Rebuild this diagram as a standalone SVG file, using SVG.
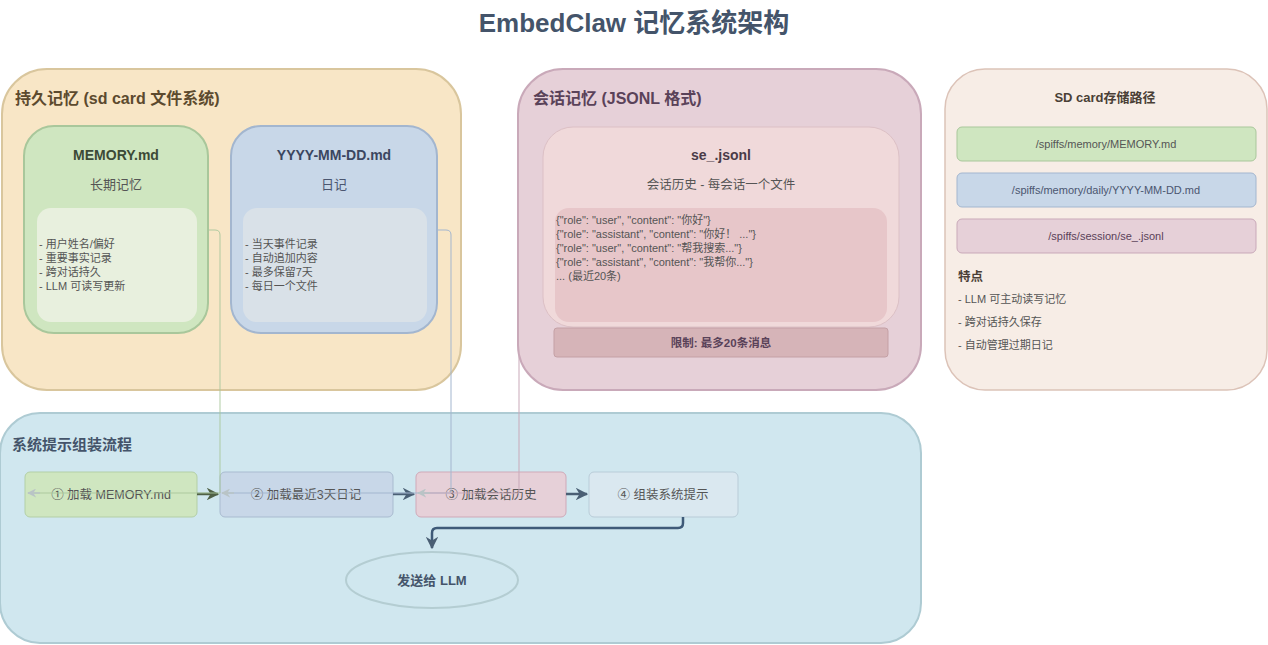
<svg xmlns="http://www.w3.org/2000/svg" width="1268" height="645" viewBox="0 0 1268 645">
<style>
text{font-family:"Liberation Sans","Noto Sans CJK SC",sans-serif}
.b{font-weight:bold}
.sm{font-size:11px}
.fl{font-size:12.5px}
</style>
<defs>
<marker id="ad" viewBox="0 0 10 10" refX="9" refY="5" markerWidth="5" markerHeight="5" orient="auto"><path d="M0,0 L10,5 L0,10 L3,5 Z" fill="#4a5f74"/></marker>
<marker id="ag" viewBox="0 0 10 10" refX="9" refY="5" markerWidth="5" markerHeight="5" orient="auto"><path d="M0,0 L10,5 L0,10 L3,5 Z" fill="#4f6046"/></marker>
<marker id="al" viewBox="0 0 10 10" refX="9" refY="5" markerWidth="6" markerHeight="6" orient="auto"><path d="M0,0 L10,5 L0,10 L3,5 Z" fill="#b9c4c6"/></marker>
</defs>
<rect width="1268" height="645" fill="#fff"/>
<text x="634" y="32" text-anchor="middle" class="b" font-size="26" fill="#44546a">EmbedClaw 记忆系统架构</text>

<g id="persist">
<rect x="2" y="69" width="459" height="321" rx="45" fill="#f8e6c6" stroke="#d9c69d" stroke-width="2"/>
<text x="15" y="104" class="b" font-size="16" fill="#5c4a2e">持久记忆 (sd card 文件系统)</text>
</g>
<g id="memory-md">
<rect x="24" y="126" width="184" height="207" rx="30" fill="#cfe6c0" stroke="#a9c79b" stroke-width="2"/>
<text x="116" y="160" text-anchor="middle" class="b" font-size="14" fill="#3c4a36">MEMORY.md</text>
<text x="116" y="189" text-anchor="middle" font-size="13" fill="#555">长期记忆</text>
<rect x="37" y="208" width="160" height="114" rx="14" fill="#e8f0de"/>
<text class="sm" fill="#555"><tspan x="39" y="248">- 用户姓名/偏好</tspan><tspan x="39" y="262">- 重要事实记录</tspan><tspan x="39" y="276">- 跨对话持久</tspan><tspan x="39" y="290">- LLM 可读写更新</tspan></text>
</g>
<g id="daily-md">
<rect x="231" y="126" width="206" height="207" rx="30" fill="#c8d7e8" stroke="#a3b6cf" stroke-width="2"/>
<text x="334" y="160" text-anchor="middle" class="b" font-size="14" fill="#3b4660">YYYY-MM-DD.md</text>
<text x="334" y="189" text-anchor="middle" font-size="13" fill="#4b5670">日记</text>
<rect x="243" y="208" width="184" height="114" rx="14" fill="#d9e1e8"/>
<text class="sm" fill="#555"><tspan x="245" y="248">- 当天事件记录</tspan><tspan x="245" y="262">- 自动追加内容</tspan><tspan x="245" y="276">- 最多保留7天</tspan><tspan x="245" y="290">- 每日一个文件</tspan></text>
</g>

<g id="session">
<rect x="518" y="69" width="403" height="321" rx="45" fill="#e6d0d8" stroke="#c9a9b9" stroke-width="2"/>
<text x="533" y="104" class="b" font-size="16" fill="#5a4259">会话记忆 (JSONL 格式)</text>
</g>
<g id="session-file">
<rect x="543" y="127" width="356" height="200" rx="30" fill="#f0d9da" stroke="#dcc0c5" stroke-width="1"/>
<text x="721" y="160" text-anchor="middle" class="b" font-size="14" fill="#4a3b48">se_.jsonl</text>
<text x="721" y="189" text-anchor="middle" font-size="12.5" fill="#555">会话历史 - 每会话一个文件</text>
<rect x="555" y="208" width="332" height="114" rx="14" fill="#e7c6c9"/>
<text class="sm" fill="#555"><tspan x="556" y="224">{"role": "user", "content": "你好"}</tspan><tspan x="556" y="238">{"role": "assistant", "content": "你好！ ..."}</tspan><tspan x="556" y="252">{"role": "user", "content": "帮我搜索..."}</tspan><tspan x="556" y="266">{"role": "assistant", "content": "我帮你..."}</tspan><tspan x="556" y="280">... (最近20条)</tspan></text>
</g>
<g id="limit">
<rect x="554" y="328" width="334" height="29" rx="3" fill="#d6b4b8" stroke="#c4a0a5"/>
<text x="721" y="347" text-anchor="middle" class="b" font-size="11.5" fill="#5a4259">限制: 最多20条消息</text>
</g>

<g id="paths">
<rect x="945" y="69" width="322" height="321" rx="40" fill="#f7ede6" stroke="#dcc3b8" stroke-width="1.5"/>
<text x="1105" y="102" text-anchor="middle" class="b" font-size="13" fill="#4a3f36">SD card存储路径</text>
<rect x="957" y="127" width="299" height="34" rx="5" fill="#cfe6c0" stroke="#a9c79b"/>
<text x="1106" y="148" text-anchor="middle" class="sm" fill="#555">/spiffs/memory/MEMORY.md</text>
<rect x="957" y="173" width="299" height="34" rx="5" fill="#c8d7e8" stroke="#a3b6cf"/>
<text x="1106" y="194" text-anchor="middle" class="sm" fill="#4b5670">/spiffs/memory/daily/YYYY-MM-DD.md</text>
<rect x="957" y="219" width="299" height="34" rx="5" fill="#e6d0d8" stroke="#c9a9b9"/>
<text x="1106" y="240" text-anchor="middle" class="sm" fill="#5a4259">/spiffs/session/se_.jsonl</text>
<text x="958" y="281" class="b" font-size="12.5" fill="#4a3f36">特点</text>
<text class="sm" fill="#555"><tspan x="958" y="303">- LLM 可主动读写记忆</tspan><tspan x="958" y="326">- 跨对话持久保存</tspan><tspan x="958" y="349">- 自动管理过期日记</tspan></text>
</g>

<g id="flow">
<rect x="0" y="413" width="921" height="230" rx="40" fill="#d0e7ef" stroke="#aecbd3" stroke-width="2"/>
<text x="12" y="450" class="b" font-size="15" fill="#44546a">系统提示组装流程</text>
</g>
<g id="step1"><rect x="25" y="472" width="172" height="45" rx="5" fill="#cfe6c0" stroke="#b3cfa6"/><text x="111" y="499" text-anchor="middle" class="fl" fill="#555">① 加载 MEMORY.md</text></g>
<g id="step2"><rect x="220" y="472" width="173" height="45" rx="5" fill="#c8d7e8" stroke="#a9bbd0"/><text x="306" y="499" text-anchor="middle" class="fl" fill="#555">② 加载最近3天日记</text></g>
<g id="step3"><rect x="416" y="472" width="150" height="45" rx="5" fill="#e6d0d8" stroke="#cfa9b8"/><text x="491" y="499" text-anchor="middle" class="fl" fill="#555">③ 加载会话历史</text></g>
<g id="step4"><rect x="589" y="472" width="149" height="45" rx="5" fill="#dae8f0" stroke="#b9ccd8"/><text x="663" y="499" text-anchor="middle" class="fl" fill="#555">④ 组装系统提示</text></g>
<g id="llm"><ellipse cx="432" cy="580" rx="86" ry="28" fill="#d0e7ef" stroke="#b4cdd2" stroke-width="2"/><text x="432" y="585" text-anchor="middle" class="b" font-size="13" fill="#44546a">发送给 LLM</text></g>

<g id="connectors" fill="none">
<path d="M197,494 H218" stroke="#4f6046" stroke-width="2.5" marker-end="url(#ag)"/>
<path d="M393,494 H414" stroke="#4a5f74" stroke-width="2.5" marker-end="url(#ad)"/>
<path d="M566,494 H587" stroke="#4a5f74" stroke-width="2.5" marker-end="url(#ad)"/>
<path d="M683,517 V523 Q683,528 678,528 H437 Q432,528 432,533 V548" stroke="#3e5a78" stroke-width="2.5" marker-end="url(#ad)"/>
<path d="M208,230 H215 Q220,230 220,235 V493 H28" stroke="#a9c79b" stroke-width="1" opacity="0.9"/>
<path d="M40,493 H28" stroke="#b9c4c6" stroke-width="1.5" marker-end="url(#al)"/>
<path d="M437,230 H446 Q451,230 451,235 V493 H222" stroke="#a3b6cf" stroke-width="1"/>
<path d="M234,493 H222" stroke="#b9c4c6" stroke-width="1.5" marker-end="url(#al)"/>
<path d="M519,355 V493 H418" stroke="#c9a9b9" stroke-width="1"/>
<path d="M430,493 H418" stroke="#b9c4c6" stroke-width="1.5" marker-end="url(#al)"/>
</g>
</svg>
